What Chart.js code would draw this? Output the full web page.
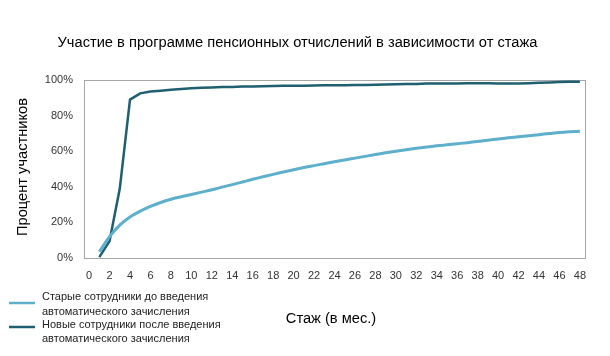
<!DOCTYPE html>
<html><head><meta charset="utf-8">
<script src="https://cdn.jsdelivr.net/npm/chart.js@4.4.1/dist/chart.umd.min.js"></script>
<style>html,body{margin:0;padding:0;background:#fff}#wrap{width:610px;height:356px}</style>
</head><body><div id="wrap"><canvas id="c" width="610" height="356"></canvas></div>
<script>
const chartTitle = "Участие в программе пенсионных отчислений в зависимости от стажа";
const yTitle = "Процент участников";
const xTitle = "Стаж (в мес.)";
const seriesNames = [["Старые сотрудники до введения", "автоматического зачисления"], ["Новые сотрудники после введения", "автоматического зачисления"]];
const months = [1,2,3,4,5,6,7,8,9,10,11,12,13,14,15,16,17,18,19,20,21,22,23,24,25,26,27,28,29,30,31,32,33,34,35,36,37,38,39,40,41,42,43,44,45,46,47,48];
const oldEmployees = [3.5,12,18.5,23,26.3,29,31.2,33,34.4,35.7,37,38.3,39.8,41.2,42.7,44.2,45.6,47,48.3,49.6,50.8,51.9,53,54.1,55.1,56.1,57.1,58.1,59.1,60,60.8,61.6,62.3,63,63.6,64.2,64.8,65.5,66.2,66.9,67.5,68.1,68.7,69.3,69.9,70.5,70.9,71.2];
const newEmployees = [0.5,9.5,39,89,92.5,93.5,94,94.5,95,95.3,95.6,95.8,96,96.1,96.3,96.4,96.5,96.6,96.7,96.8,96.8,96.9,97,97,97.1,97.2,97.2,97.3,97.5,97.6,97.7,97.8,98,98,98.1,98.1,98.2,98.2,98.2,98.1,98.1,98.1,98.2,98.4,98.6,98.9,99,99];
const xTicks = [0,2,4,6,8,10,12,14,16,18,20,22,24,26,28,30,32,34,36,38,40,42,44,46,48];
const yTicks = [0,20,40,60,80,100];
const colors = ["#5dafcc", "#1e5f70"];

const FONT = "'Liberation Sans', Arial, sans-serif";

const customDraw = {
  id: 'customDraw',
  beforeDatasetsDraw(chart) {
    const {ctx, chartArea: a} = chart;
    ctx.save();
    ctx.strokeStyle = '#a6a6a6';
    ctx.lineWidth = 1;
    ctx.strokeRect(Math.round(a.left) + 0.5, Math.round(a.top) + 0.5, Math.round(a.right - a.left), Math.round(a.bottom - a.top));
    ctx.restore();
  },
  afterDraw(chart) {
    const {ctx} = chart;
    ctx.save();
    ctx.fillStyle = '#000';
    ctx.font = '14.67px ' + FONT;
    ctx.textAlign = 'center';
    ctx.textBaseline = 'middle';
    ctx.fillText(chartTitle, 297.5, 43);
    ctx.fillText(xTitle, 331, 319);
    ctx.save();
    ctx.translate(22.5, 167);
    ctx.rotate(-Math.PI / 2);
    ctx.fillText(yTitle, 0, 0);
    ctx.restore();
    // legend
    ctx.font = '11px ' + FONT;
    ctx.textAlign = 'left';
    const marks = [303, 327];
    const lines = [[297, 312], [325, 339]];
    seriesNames.forEach((nm, i) => {
      ctx.strokeStyle = colors[i];
      ctx.lineWidth = 2.5;
      ctx.beginPath();
      ctx.moveTo(9, marks[i]);
      ctx.lineTo(35, marks[i]);
      ctx.stroke();
      ctx.fillStyle = '#222';
      nm.forEach((t, j) => ctx.fillText(t, 42, lines[i][j]));
    });
    ctx.restore();
  }
};

new Chart(document.getElementById('c'), {
  type: 'line',
  data: {
    datasets: [
      {label: seriesNames[0].join(' '), data: months.map((m, i) => ({x: m, y: oldEmployees[i]})), borderColor: colors[0], borderWidth: 3, pointRadius: 0, cubicInterpolationMode: 'monotone', fill: false},
      {label: seriesNames[1].join(' '), data: months.map((m, i) => ({x: m, y: newEmployees[i]})), borderColor: colors[1], borderWidth: 2.5, pointRadius: 0, tension: 0, fill: false}
    ]
  },
  options: {
    responsive: false,
    animation: false,
    layout: {padding: {top: 80, right: 25, bottom: 0, left: 0}},
    plugins: {legend: {display: false}, title: {display: false}, tooltip: {enabled: false}},
    scales: {
      x: {
        type: 'linear', min: -0.5, max: 48.5,
        afterBuildTicks: s => { s.ticks = xTicks.map(v => ({value: v})); },
        afterFit: s => { s.height = 98; },
        grid: {display: false, drawTicks: false},
        border: {display: false},
        ticks: {padding: 11, color: '#333', font: {size: 11, family: FONT}, maxRotation: 0, autoSkip: false},
        title: {display: false}
      },
      y: {
        min: 0, max: 100,
        afterBuildTicks: s => { s.ticks = yTicks.map(v => ({value: v})); },
        afterFit: s => { s.width = 84; },
        grid: {display: false, drawTicks: false},
        border: {display: false},
        ticks: {padding: 11, color: '#333', font: {size: 11, family: FONT}, callback: v => v + '%'},
        title: {display: false}
      }
    }
  },
  plugins: [customDraw]
});
</script></body></html>
